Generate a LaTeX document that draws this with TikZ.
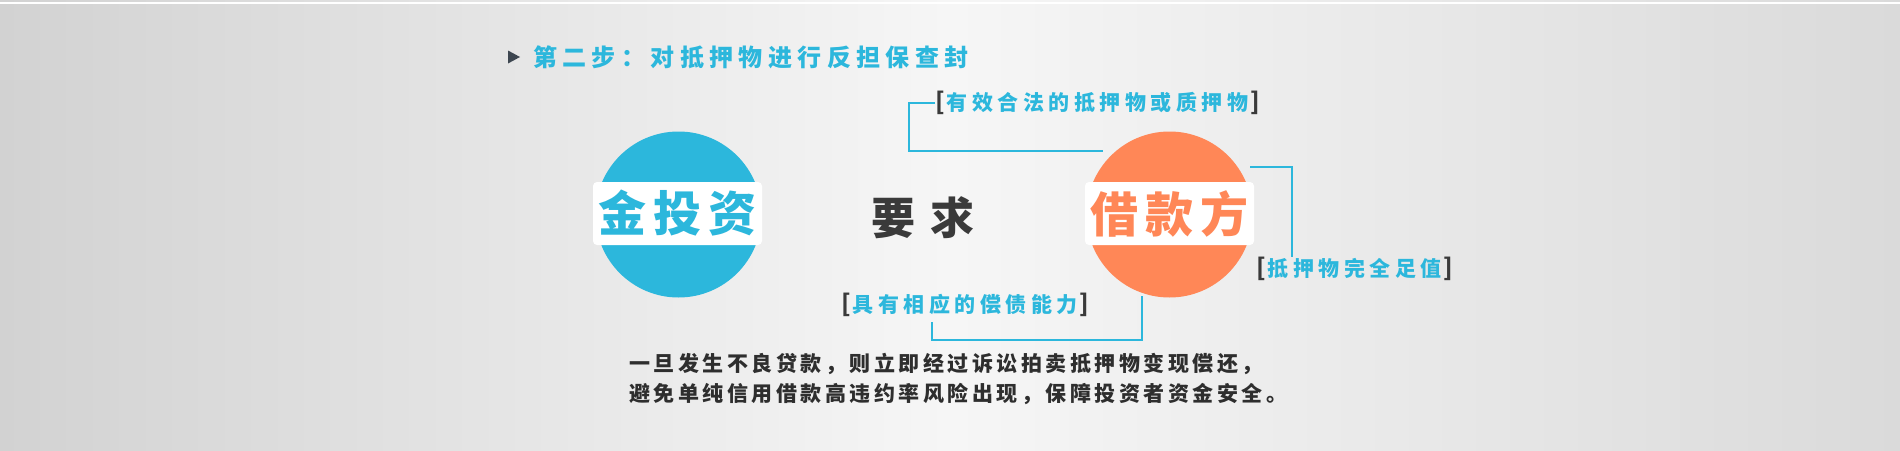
\documentclass[tikz,border=0pt]{standalone}
\usepackage{fontspec}
\newfontfamily\cjk{Noto Sans CJK SC}
\usetikzlibrary{calc}
\definecolor{bgedge}{HTML}{D2D2D2}
\definecolor{bgedgeR}{HTML}{DADADA}
\definecolor{bgmid}{HTML}{F6F6F6}
\definecolor{blu}{HTML}{2CB7DC}
\definecolor{org}{HTML}{FF8757}
\definecolor{dk}{HTML}{3A3A3A}
\definecolor{txt}{HTML}{2E2E2E}
\definecolor{tri}{HTML}{3D4650}
\makeatletter
\newcommand\spread[2]{\begingroup\def\sp@first{1}\@tfor\sp@c:=#2\do{\ifx\sp@first\@empty\hspace{#1}\fi\sp@c\gdef\sp@first{}}\endgroup}
\makeatother
\tikzset{
  conn/.style={draw=blu, line width=1.4pt},
  lbl/.style={inner sep=0pt, anchor=west, font=\cjk\bfseries\fontsize{21}{24}\selectfont},
  disc/.style={circle, inner sep=0pt, minimum size=166pt},
  band/.style={fill=white, rounded corners=4pt, inner sep=0pt, minimum width=169pt, minimum height=63pt},
  bigtxt/.style={inner sep=0pt, font=\cjk\bfseries\fontsize{48}{52}\selectfont},
}
\newcommand\lb{{\color{dk}\fontsize{24}{26}\selectfont[}}
\newcommand\rb{{\color{dk}\fontsize{24}{26}\selectfont]}}
\begin{document}
\begin{tikzpicture}[x=1pt,y=-1pt]
\useasboundingbox (0,0) rectangle (1900,450);
% background
\shade[left color=bgedge, right color=bgedgeR, middle color=bgmid] (0,0) rectangle (1900,450);
\draw[white, line width=1.2pt] (0,3) -- (1900,3);
% title
\fill[tri] (508,50.5) -- (520,57) -- (508,63.5) -- cycle;
\node[inner sep=0pt, anchor=west, text=blu, font=\cjk\bfseries\fontsize{24}{28}\selectfont] (title) at (533,57) {\spread{5.4pt}{第二步：对抵押物进行反担保查封}};
% circles
\node[disc, fill=blu] (lc) at (678.5,214.5) {};
\node[disc, fill=org] (rc) at (1169.5,214.5) {};
\node[band] (lband) at (677.5,213.5) {};
\node[band] (rband) at (1169.5,213.5) {};
\node[bigtxt, text=blu] (ltxt) at (lband.center) {\spread{7pt}{金投资}};
\node[bigtxt, text=org] (rtxt) at (rband.center) {\spread{7pt}{借款方}};
\node[inner sep=0pt, text=dk, font=\cjk\bfseries\fontsize{44}{48}\selectfont] (req) at (923,218) {\spread{15pt}{要求}};
% labels
\node[lbl] (lab1) at (935,103) {\lb\hspace{2pt}\textcolor{blu}{\spread{4.5pt}{有效合法的抵押物或质押物}}\hspace{2pt}\rb};
\node[lbl] (lab2) at (1256,269) {\lb\hspace{2pt}\textcolor{blu}{\spread{4.5pt}{抵押物完全足值}}\hspace{2pt}\rb};
\node[lbl] (lab3) at (841,305) {\lb\hspace{2pt}\textcolor{blu}{\spread{4.5pt}{具有相应的偿债能力}}\hspace{2pt}\rb};
% connectors
\coordinate (k1) at (909,151);
\coordinate (e1) at (1103,151);
\draw[conn] (lab1.west) -| (k1) -- (e1);
\coordinate (s2) at (1250,167);
\coordinate (k2) at (1292,167);
\draw[conn] (s2) -- (k2) -- (k2 |- lab2.north);
\coordinate (s3) at (932,322);
\coordinate (e3) at (1142,296);
\draw[conn] (s3) |- ($(e3)+(0,44)$) -- (e3);
% paragraph
\node[inner sep=0pt, anchor=west, align=left, text=txt, font=\cjk\bfseries\fontsize{21}{30}\selectfont] (para) at (629,379) {\spread{3.5pt}{一旦发生不良贷款，则立即经过诉讼拍卖抵押物变现偿还，}\\\spread{3.5pt}{避免单纯信用借款高违约率风险出现，保障投资者资金安全。}};
\end{tikzpicture}
\end{document}
